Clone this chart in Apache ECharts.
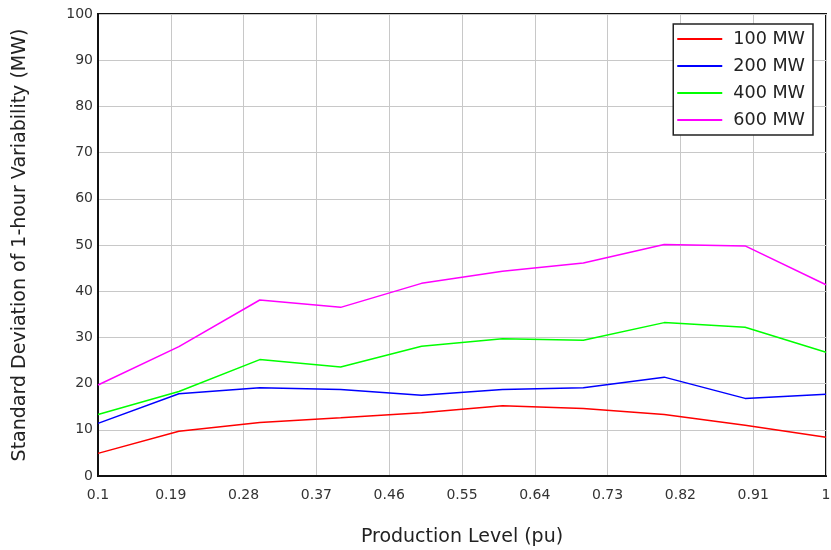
<!DOCTYPE html>
<html>
<head>
<meta charset="utf-8">
<script src="https://cdn.jsdelivr.net/npm/echarts@6/dist/echarts.min.js"></script>
<style>html,body{margin:0;padding:0;background:#fff;}#c{width:831px;height:550px;}</style>
</head>
<body>
<div id="c"></div>
<script>
const xValues = [0.1, 0.2, 0.3, 0.4, 0.5, 0.6, 0.7, 0.8, 0.9, 1.0];
const mw100 = [4.9, 9.7, 11.6, 12.6, 13.7, 15.2, 14.6, 13.3, 11.0, 8.4];
const mw200 = [11.4, 17.8, 19.1, 18.7, 17.5, 18.7, 19.1, 21.4, 16.8, 17.7];
const mw400 = [13.3, 18.3, 25.2, 23.6, 28.1, 29.7, 29.4, 33.2, 32.2, 26.8];
const mw600 = [19.7, 28.0, 38.1, 36.5, 41.7, 44.3, 46.1, 50.1, 49.8, 41.4];
const seriesNames = ['100 MW', '200 MW', '400 MW', '600 MW'];
const seriesColors = ['#ff0000', '#0000ff', '#00ff00', '#ff00ff'];
const seriesData = [mw100, mw200, mw400, mw600];

const font = 'DejaVu Sans';
const chart = echarts.init(document.getElementById('c'), null, {renderer: 'canvas'});
chart.setOption({
  backgroundColor: '#fff',
  animation: false,
  grid: {left: 98, right: 5, top: 14, bottom: 74, show: true, borderColor: '#111', borderWidth: 2,
         backgroundColor: 'transparent', containLabel: false, outerBoundsMode: 'none'},
  legend: {
    orient: 'vertical', right: 18, top: 24,
    backgroundColor: '#fff',
    borderColor: '#222', borderWidth: 1.5, borderRadius: 0,
    padding: [5, 8, 5, 4],
    itemWidth: 45, itemHeight: 2, itemGap: 7, icon: 'rect',
    textStyle: {fontFamily: font, fontSize: 17.6, color: '#222', padding: [0, 0, 0, 6], lineHeight: 20},
    data: seriesNames
  },
  xAxis: {
    type: 'value', min: 0.1, max: 1, interval: 0.09,
    name: 'Production Level (pu)', nameLocation: 'middle', nameGap: 52,
    nameTextStyle: {fontFamily: font, fontSize: 19, color: '#222'},
    axisLine: {show: true, lineStyle: {color: '#111', width: 2}},
    axisTick: {show: false},
    axisLabel: {fontFamily: font, fontSize: 14, color: '#333', margin: 12},
    splitLine: {show: true, lineStyle: {color: '#c8c8c8', width: 1}}
  },
  yAxis: {
    type: 'value', min: 0, max: 100, interval: 10,
    name: 'Standard Deviation of 1-hour Variability (MW)', nameLocation: 'middle', nameGap: 68,
    nameTextStyle: {fontFamily: font, fontSize: 19, color: '#222'},
    axisLine: {show: true, lineStyle: {color: '#111', width: 2}},
    axisTick: {show: false},
    axisLabel: {fontFamily: font, fontSize: 14, color: '#333', margin: 5},
    splitLine: {show: true, lineStyle: {color: '#c8c8c8', width: 1}}
  },
  series: seriesNames.map((n, i) => ({
    name: n, type: 'line',
    data: xValues.map((x, j) => [x, seriesData[i][j]]),
    showSymbol: false, symbol: 'none',
    lineStyle: {color: seriesColors[i], width: 1.5},
    itemStyle: {color: seriesColors[i]}
  }))
});
</script>
</body>
</html>
